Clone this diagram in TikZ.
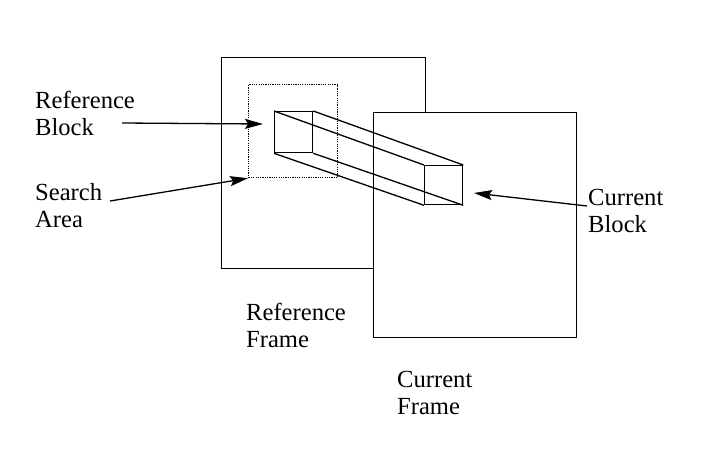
\documentclass[tikz,border=0pt]{standalone}
\usepackage{fontspec}
\setmainfont{Liberation Serif}
\usetikzlibrary{arrows.meta}
\begin{document}
\begin{tikzpicture}[x=1pt,y=-1pt,
  frame/.style={line width=1.4pt},
  sarea/.style={line width=1.2pt,dash pattern=on 1.2pt off 1.1pt},
  edge/.style={line width=1.3pt},
  lbl/.style={font=\fontsize{24.6}{26.5}\selectfont,inner sep=0pt,anchor=base west,align=left},
  ptr/.style={line width=1.3pt,-{Stealth[length=18pt,width=10pt,inset=3pt]}}]
\useasboundingbox[fill=white] (0,0) rectangle (727,450);
% reference frame
\node[frame,draw,minimum width=204pt,minimum height=211pt,anchor=north west,inner sep=0pt] (rf) at (221,57) {};
% search area
\node[sarea,draw,minimum width=89pt,minimum height=93pt,anchor=north west,inner sep=0pt] (sa) at (248,84) {};
% reference block
\node[edge,draw,minimum width=38pt,minimum height=41pt,anchor=north west,inner sep=0pt] (rb) at (274,111) {};
% current frame (opaque)
\node[frame,draw,fill=white,minimum width=203pt,minimum height=225pt,anchor=north west,inner sep=0pt] (cf) at (373,112) {};
% current block
\node[edge,draw,minimum width=38pt,minimum height=39pt,anchor=north west,inner sep=0pt] (cb) at (424,165) {};
% prism edges
\draw[edge] (rb.north west) -- (cb.north west);
\draw[edge] (rb.north east) -- (cb.north east);
\draw[edge] (rb.south west) -- (cb.south west);
\draw[edge] (rb.south east) -- (cb.south east);
% labels (anchor = baseline of last line)
\node[lbl] (lrb) at (35,135) {Reference\\Block};
\node[lbl] (lsa) at (35,227) {Search\\Area};
\node[lbl] (lcb) at (588,232) {Current\\Block};
\node[lbl] (lrf) at (246,347) {Reference\\Frame};
\node[lbl] (lcf) at (397,414) {Current\\Frame};
% arrows
\coordinate (trb) at (122,123);
\coordinate (hrb) at (263,124);
\coordinate (tsa) at (110,201);
\coordinate (tcb) at (587,206);
\coordinate (hcb) at (474,193);
\draw[ptr] (trb) -- (hrb);
\draw[ptr] (tsa) -- (sa.south west);
\draw[ptr] (tcb) -- (hcb);
\end{tikzpicture}
\end{document}
